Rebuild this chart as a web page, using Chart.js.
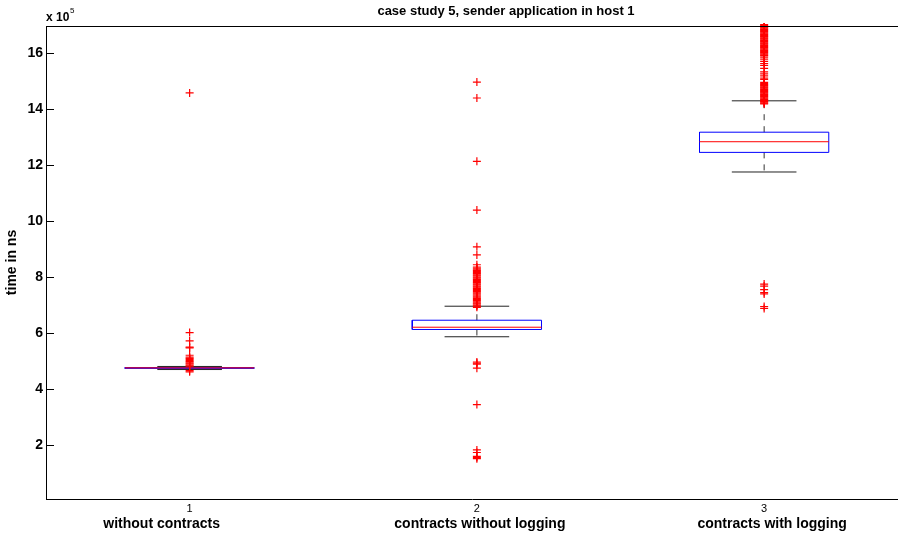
<!DOCTYPE html>
<html>
<head>
<meta charset="utf-8">
<script src="https://cdn.jsdelivr.net/npm/chart.js@4.4.1/dist/chart.umd.min.js"></script>
<style>
  body { margin: 0; background: #fff; }
  canvas { display: block; }
</style>
</head>
<body>
<canvas id="myChart" width="898" height="536"></canvas>
<script>
// values are in units of 10^5 ns
var categories = ["without contracts", "contracts without logging", "contracts with logging"];
var positions = [1, 2, 3];
var xTickLabels = ["1", "2", "3"];
var yTicks = [2, 4, 6, 8, 10, 12, 14, 16];

var medians = [4.76, 6.21, 12.83];
var q1 = [4.74, 6.13, 12.45];
var q3 = [4.77, 6.46, 13.17];
var lowerWhisker = [4.70, 5.87, 11.75];
var upperWhisker = [4.81, 6.96, 14.29];

var outliers1 = [4.62, 4.66, 4.82, 4.86, 4.90, 4.94, 4.98, 5.02, 5.06, 5.10, 5.14,
                 5.21, 5.47, 5.50, 5.72, 6.02, 14.57];
var outliers2 = [1.52, 1.56, 1.60, 1.74, 1.83, 3.45, 4.75, 4.89, 4.93, 4.97,
                 6.92, 6.96, 7.00, 7.04, 7.08, 7.12, 7.16, 7.20, 7.24, 7.28, 7.32, 7.36,
                 7.40, 7.44, 7.48, 7.52, 7.56, 7.60, 7.64, 7.68, 7.72, 7.76, 7.80, 7.84,
                 7.88, 7.92, 7.96, 8.00, 8.04, 8.08, 8.12, 8.16, 8.20, 8.24, 8.28, 8.32,
                 8.36, 8.44, 8.79, 9.08, 10.39, 12.13, 14.39, 14.96];
var outliers3 = [6.88, 6.95, 7.40, 7.45, 7.55, 7.68, 7.75,
                 14.18, 14.21, 14.24, 14.27, 14.30, 14.33, 14.36, 14.39, 14.42, 14.45,
                 14.48, 14.51, 14.54, 14.57, 14.60, 14.63, 14.66, 14.69, 14.72, 14.75,
                 14.78, 14.81, 14.84, 14.87, 14.90, 14.95, 15.05, 15.10, 15.18, 15.25,
                 15.32, 15.45, 15.55, 15.62, 15.70, 15.78, 15.85, 15.90, 15.93, 15.96,
                 15.99, 16.02, 16.05, 16.08, 16.11, 16.14, 16.17, 16.20, 16.23, 16.26,
                 16.29, 16.32, 16.35, 16.38, 16.41, 16.44, 16.47, 16.50, 16.53, 16.56,
                 16.59, 16.62, 16.65, 16.68, 16.71, 16.74, 16.77, 16.80, 16.83, 16.86,
                 16.89, 16.92, 16.95, 16.98, 17.01];
var outliers = [outliers1, outliers2, outliers3];

var chartTitle = "case study 5, sender application in host 1";
var boxHalf = 0.225, capHalf = 0.1125;
var labelShift = [-28, 3, 8];   // MATLAB puts the group names a bit off their ticks

function line(points, color, dash, order) {
    return {
        data: points, showLine: true, borderColor: color, borderWidth: 1,
        borderDash: dash || [], pointRadius: 0, fill: false, order: order
    };
}

var datasets = [];
for (var i = 0; i < positions.length; i++) {
    var c = positions[i];
    // whiskers
    datasets.push(line([{x: c, y: q3[i]}, {x: c, y: upperWhisker[i]}], '#333', [6, 6], 5));
    datasets.push(line([{x: c, y: q1[i]}, {x: c, y: lowerWhisker[i]}], '#333', [6, 6], 5));
    datasets.push(line([{x: c - capHalf, y: upperWhisker[i]}, {x: c + capHalf, y: upperWhisker[i]}], '#222', null, 4));
    datasets.push(line([{x: c - capHalf, y: lowerWhisker[i]}, {x: c + capHalf, y: lowerWhisker[i]}], '#222', null, 4));
    // box
    datasets.push(line([
        {x: c - boxHalf, y: q1[i]}, {x: c + boxHalf, y: q1[i]},
        {x: c + boxHalf, y: q3[i]}, {x: c - boxHalf, y: q3[i]},
        {x: c - boxHalf, y: q1[i]}
    ], '#0000ff', null, 3));
    // median
    datasets.push(line([{x: c - boxHalf, y: medians[i]}, {x: c + boxHalf, y: medians[i]}], '#ff0000', null, 2));
    // outliers
    datasets.push({
        data: outliers[i].map(function (v) { return {x: c, y: v}; }),
        pointStyle: 'cross', pointRadius: 4, pointBorderWidth: 1.2,
        borderColor: '#ff0000', backgroundColor: '#ff0000',
        showLine: false, clip: 3, order: 1
    });
}

var decorations = {
    id: 'decorations',
    afterDraw: function (chart) {
        var ctx = chart.ctx, area = chart.chartArea;
        var xs = chart.scales.x, ys = chart.scales.y;
        ctx.save();
        ctx.strokeStyle = '#000';
        ctx.lineWidth = 1;
        ctx.beginPath();
        ctx.moveTo(area.left, area.top + 0.5);
        ctx.lineTo(chart.width, area.top + 0.5);
        ys.ticks.forEach(function (t) {
            var py = Math.round(ys.getPixelForValue(t.value)) + 0.5;
            ctx.moveTo(area.left, py);
            ctx.lineTo(area.left + 8, py);
        });
        ctx.stroke();

        ctx.fillStyle = '#000';
        ctx.textBaseline = 'alphabetic';
        ctx.textAlign = 'center';
        ctx.font = 'bold 13px "Liberation Sans", Arial, sans-serif';
        ctx.fillText(chartTitle, 506, 15);
        ctx.font = 'bold 14px "Liberation Sans", Arial, sans-serif';
        categories.forEach(function (name, i) {
            ctx.fillText(name, xs.getPixelForValue(positions[i]) + labelShift[i], 528);
        });
        ctx.textAlign = 'left';
        ctx.font = 'bold 12px "Liberation Sans", Arial, sans-serif';
        ctx.fillText('x 10', 46, 21);
        ctx.font = '8px "Liberation Sans", Arial, sans-serif';
        ctx.fillText('5', 70, 13);
        ctx.restore();
    }
};

Chart.defaults.font.family = '"Liberation Sans", Arial, sans-serif';
Chart.defaults.color = '#000';

var ctx = document.getElementById('myChart').getContext('2d');
var chart = new Chart(ctx, {
    type: 'scatter',
    data: { datasets: datasets },
    options: {
        responsive: false,
        animation: false,
        layout: { autoPadding: false, padding: { top: 26, left: 0, right: 0, bottom: 0 } },
        plugins: { legend: { display: false }, tooltip: { enabled: false } },
        scales: {
            x: {
                type: 'linear', min: 0.5, max: 3.466,
                grid: { display: false, drawTicks: false },
                border: { display: true, color: '#000', width: 1 },
                afterBuildTicks: function (scale) {
                    scale.ticks = positions.map(function (p) { return {value: p}; });
                },
                ticks: {
                    font: { size: 11 }, padding: 3, maxRotation: 0,
                    callback: function (value) { return xTickLabels[positions.indexOf(value)]; }
                },
                afterFit: function (scale) { scale.height = 37; }
            },
            y: {
                type: 'linear', min: 0.08, max: 16.96,
                grid: { display: false, drawTicks: false },
                border: { display: true, color: '#000', width: 1 },
                afterBuildTicks: function (scale) {
                    scale.ticks = yTicks.map(function (v) { return {value: v}; });
                },
                ticks: { font: { size: 14, weight: 'bold' }, padding: 3 },
                title: {
                    display: true, text: 'time in ns',
                    font: { size: 14, weight: 'bold' }, padding: { top: 4, bottom: 0 }
                },
                afterFit: function (scale) { scale.width = 46; }
            }
        }
    },
    plugins: [decorations]
});
</script>
</body>
</html>
